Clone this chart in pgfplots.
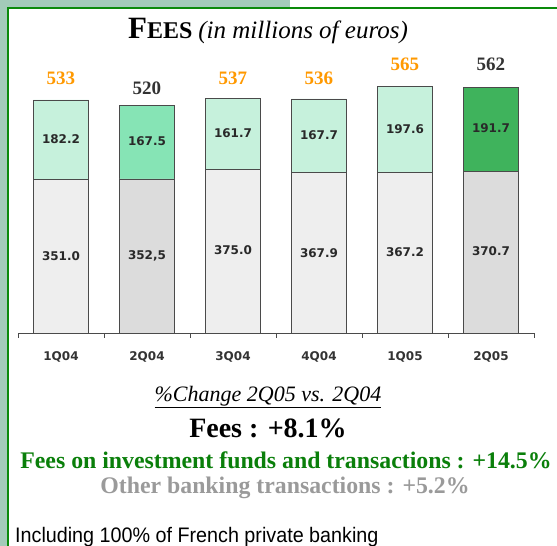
\documentclass[border=0pt]{standalone}
\usepackage{pgfplots}
\pgfplotsset{compat=1.18}
\usepackage{fontspec}
\setmainfont{Liberation Serif}
\newfontfamily\verd{DejaVu Sans}
\newfontfamily\arial{Liberation Sans}

\definecolor{strip}{HTML}{A3CBB9}
\definecolor{frame}{HTML}{0A8A0A}
\definecolor{lowLight}{HTML}{EEEEEE}
\definecolor{lowDark}{HTML}{DCDCDC}
\definecolor{topLight}{HTML}{C6F1DC}
\definecolor{topMid}{HTML}{86E4B5}
\definecolor{topDark}{HTML}{3FB35C}
\definecolor{edge}{HTML}{4A4A4A}
\definecolor{totOrange}{HTML}{FF9900}
\definecolor{totGrey}{HTML}{333333}
\definecolor{fundGreen}{HTML}{0A7F0A}
\definecolor{otherGrey}{HTML}{9A9A9A}

\tikzset{seg/.style={font=\verd\bfseries\fontsize{12}{12}\selectfont, text=totGrey!80!black},
         tot/.style={font=\bfseries\fontsize{19}{19}\selectfont}}

\begin{document}
\begin{tikzpicture}[x=1pt,y=1pt]
  \useasboundingbox (0,0) rectangle (557,546);
  \fill[white] (0,0) rectangle (557,546);
  % slide decoration
  \fill[strip] (0,0) rectangle (7,546);
  \fill[strip] (0,539) rectangle (290,546);
  \draw[frame, line width=2pt] (8,0) -- (8,538) -- (557,538);

  % title
  \node[anchor=base] at (268,507) {\bfseries\fontsize{31}{31}\selectfont F\fontsize{24}{24}\selectfont EES
    \mdseries\itshape\fontsize{25}{25}\selectfont (in millions of euros)};

  \begin{axis}[
      at={(18pt,213pt)}, anchor=south west,
      scale only axis, width=516pt, height=262.2pt,
      ybar stacked, bar width=55pt,
      xmin=-0.5, xmax=5.5, ymin=0, ymax=600,
      axis y line=none, axis x line=bottom,
      x axis line style={-, draw=edge, line width=0.8pt},
      xtick={0,1,2,3,4,5},
      xticklabels={1Q04,2Q04,3Q04,4Q04,1Q05,2Q05},
      major tick length=0pt,
      xticklabel style={font=\verd\bfseries\fontsize{12}{12}\selectfont, text=totGrey, anchor=base, yshift=-28pt},
      extra x ticks={-0.5,0.5,1.5,2.5,3.5,4.5,5.5},
      extra x tick labels={},
      extra x tick style={major tick length=5pt, tick align=outside, tick style={draw=edge, line width=0.8pt}},
      clip=false,
      every axis plot/.append style={draw=edge, line width=0.8pt},
    ]
    % other banking transactions (bottom)
    \addplot[fill=lowLight] coordinates {(0,351.0)(1,0)(2,375.0)(3,367.9)(4,367.2)(5,0)};
    \addplot[fill=lowDark]  coordinates {(0,0)(1,352.5)(2,0)(3,0)(4,0)(5,370.7)};
    % investment funds and transactions (top)
    \addplot[fill=topLight] coordinates {(0,182.2)(1,0)(2,161.7)(3,167.7)(4,197.6)(5,0)};
    \addplot[fill=topMid]   coordinates {(0,0)(1,167.5)(2,0)(3,0)(4,0)(5,0)};
    \addplot[fill=topDark]  coordinates {(0,0)(1,0)(2,0)(3,0)(4,0)(5,191.7)};

    % label anchors (text is set after the axis so it lies above the bars)
    \coordinate (b0) at (axis cs:0,176);
    \coordinate (b1) at (axis cs:1,176);
    \coordinate (b2) at (axis cs:2,190);
    \coordinate (b3) at (axis cs:3,183);
    \coordinate (b4) at (axis cs:4,185);
    \coordinate (b5) at (axis cs:5,188);
    \coordinate (t0) at (axis cs:0,444);
    \coordinate (t1) at (axis cs:1,439);
    \coordinate (t2) at (axis cs:2,458);
    \coordinate (t3) at (axis cs:3,453);
    \coordinate (t4) at (axis cs:4,467);
    \coordinate (t5) at (axis cs:5,469);
    \coordinate (s0) at (axis cs:0,583);
    \coordinate (s1) at (axis cs:1,561);
    \coordinate (s2) at (axis cs:2,583);
    \coordinate (s3) at (axis cs:3,583);
    \coordinate (s4) at (axis cs:4,616);
    \coordinate (s5) at (axis cs:5,616);
  \end{axis}

  \node[seg] at (b0) {351.0};
  \node[seg] at (b1) {352,5};
  \node[seg] at (b2) {375.0};
  \node[seg] at (b3) {367.9};
  \node[seg] at (b4) {367.2};
  \node[seg] at (b5) {370.7};
  \node[seg] at (t0) {182.2};
  \node[seg] at (t1) {167.5};
  \node[seg] at (t2) {161.7};
  \node[seg] at (t3) {167.7};
  \node[seg] at (t4) {197.6};
  \node[seg] at (t5) {191.7};
  \node[tot, text=totOrange] at (s0) {533};
  \node[tot, text=totGrey]   at (s1) {520};
  \node[tot, text=totOrange] at (s2) {537};
  \node[tot, text=totOrange] at (s3) {536};
  \node[tot, text=totOrange] at (s4) {565};
  \node[tot, text=totGrey]   at (s5) {562};

  % commentary below the chart
  \node at (268,149) {\itshape\fontsize{22}{22}\selectfont\underline{\%Change 2Q05 vs. 2Q04}};
  \node at (268,118) {\bfseries\fontsize{28}{28}\selectfont Fees : +8.1\%};
  \node[text=fundGreen] at (286,86) {\bfseries\fontsize{23.8}{24}\selectfont Fees on investment funds and transactions : +14.5\%};
  \node[text=otherGrey] at (285,58) {\bfseries\fontsize{23.8}{24}\selectfont Other banking transactions : +5.2\%};
  \node[anchor=base west, inner sep=0pt] at (15,3) {\scalebox{0.94}[1]{\arial\fontsize{21}{21}\selectfont Including 100\% of French private banking}};
\end{tikzpicture}
\end{document}
